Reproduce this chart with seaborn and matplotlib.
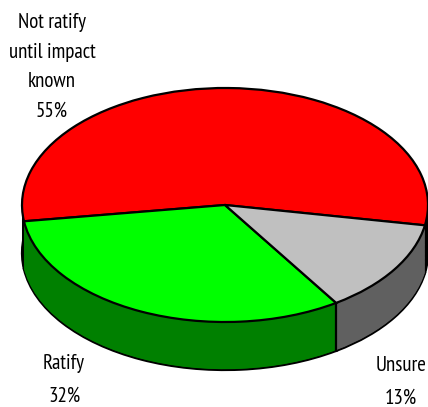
import numpy as np
import seaborn as sns
import matplotlib.pyplot as plt

sns.set_style("white")

# Slice data, counter-clockwise from the right edge
categories = ["Not ratify\nuntil impact\nknown", "Ratify", "Unsure"]
shares = [55, 32, 13]
top_colors = ["#ff0000", "#00ff00", "#c0c0c0"]
side_colors = ["#000000", "#008000", "#606060"]

plt.rcParams['font.family'] = ['PT Sans Narrow', 'Roboto Condensed', 'Liberation Sans']

W, H = 428, 407
CX, CY, RX, RY, DEPTH = 225, 205, 203, 117, 48
START = -10

fig = plt.figure(figsize=(W / 100, H / 100), dpi=100)
ax = fig.add_axes([0, 0, 1, 1])

edge = {'edgecolor': 'black', 'linewidth': 1.6}
depth = DEPTH / RY

# extruded wall: bottom outline first, then fill up towards the top face
ax.pie(shares, colors=side_colors, startangle=START, center=(0, -depth), wedgeprops=edge)
for off in np.linspace(depth, 0, 60)[1:-1]:
    ax.pie(shares, colors=side_colors, startangle=START, center=(0, -off),
           wedgeprops={'edgecolor': 'none', 'linewidth': 0})
# black vertical edge between green and grey walls
boundary = np.deg2rad(START + 360 * (shares[0] + shares[1]) / 100)
ax.plot([np.cos(boundary)] * 2, [np.sin(boundary), np.sin(boundary) - depth], color='black', lw=1.6)

ax.pie(shares, colors=top_colors, startangle=START, wedgeprops=edge)

ax.set_aspect('auto')
ax.set_xlim(-CX / RX, (W - CX) / RX)
ax.set_ylim(-(H - CY) / RY, CY / RY)
ax.axis('off')


def label(px, py, s, spacing):
    ax.text((px - CX) / RX, (CY - py) / RY, s, ha='center', va='center',
            fontsize=15, color='black', linespacing=spacing)


label(52, 67, f"{categories[0]}\n{shares[0]}%", 1.7)
label(64, 380, f"{categories[1]}\n{shares[1]}%", 1.9)
label(401, 382, f"{categories[2]}\n{shares[2]}%", 1.9)

fig.savefig("out.png", dpi=100)
